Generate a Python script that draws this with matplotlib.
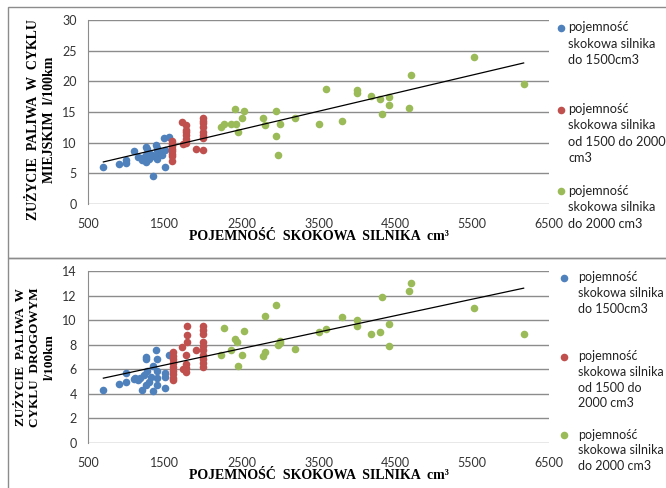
import numpy as np
import matplotlib
matplotlib.use('Agg')
from matplotlib import pyplot as plt
from matplotlib.patches import Rectangle
from matplotlib.lines import Line2D

# engine capacity [cm3] and fuel consumption [l/100km]
# city cycle (top chart)
city_small_x = [700, 900, 1000, 1000, 1100, 1150, 1200, 1200, 1250, 1250, 1250, 1270, 1280, 1300, 1300,
                1330, 1350, 1350, 1390, 1400, 1400, 1400, 1400, 1450, 1460, 1490, 1500, 1500, 1550]
city_small_y = [6.0, 6.5, 6.7, 7.2, 8.6, 7.7, 7.5, 7.2, 9.3, 6.9, 8.0, 9.0, 7.6, 8.3, 7.3,
                8.0, 4.5, 7.8, 9.6, 8.8, 8.0, 7.3, 9.2, 8.5, 8.0, 10.8, 6.0, 8.8, 11.0]
city_mid_x = [1590, 1590, 1590, 1590, 1590, 1590, 1590, 1590,
              1720, 1770, 1770, 1770, 1770, 1740, 1780, 1770, 1900,
              2000, 2000, 2000, 2000, 2000, 2000, 2000, 2000]
city_mid_y = [10.2, 9.8, 9.4, 9.0, 8.6, 8.2, 7.8, 7.0,
              13.4, 12.9, 12.1, 11.3, 10.6, 9.8, 10.0, 11.7, 9.0,
              8.8, 14.0, 13.6, 13.2, 12.5, 11.8, 11.3, 10.8]
city_big_x = [2230, 2270, 2360, 2410, 2430, 2450, 2500, 2530, 2780, 2800, 2950, 2950, 2970, 3000, 3190,
              3500, 3600, 3800, 4000, 4000, 4180, 4300, 4320, 4420, 4420, 4680, 4710, 5520, 6170]
city_big_y = [12.6, 13.0, 13.0, 15.5, 13.0, 11.8, 14.1, 15.2, 14.0, 12.8, 15.1, 11.1, 8.0, 13.0, 14.1,
              13.0, 18.8, 13.6, 18.6, 18.1, 17.6, 17.2, 14.6, 17.4, 16.2, 15.6, 21.0, 24.0, 19.5]

# road cycle (bottom chart)
road_small_x = [700, 900, 1000, 1000, 1100, 1110, 1150, 1180, 1200, 1230, 1250, 1260, 1260, 1270,
                1290, 1320, 1340, 1350, 1390, 1400, 1400, 1400, 1400, 1500, 1500, 1500, 1550]
road_small_y = [4.3, 4.8, 5.7, 5.0, 5.2, 5.3, 5.1, 5.3, 4.3, 5.5, 7.0, 6.8, 4.7, 5.9,
                5.0, 5.4, 4.2, 6.3, 7.6, 6.8, 5.9, 5.3, 4.7, 4.45, 5.4, 5.7, 7.2]
road_mid_x = [1600, 1600, 1600, 1600, 1600, 1600, 1600, 1600, 1600,
              1720, 1790, 1790, 1790, 1770, 1770, 1770, 1770, 1740, 1900,
              2000, 2000, 2000, 2000, 2000, 2000, 2000, 2000, 2000, 2000]
road_mid_y = [7.4, 7.1, 6.8, 6.5, 6.2, 5.9, 5.6, 5.3, 5.1,
              7.8, 9.5, 8.8, 8.2, 7.2, 6.4, 6.1, 5.8, 6.0, 7.6,
              9.5, 9.2, 8.9, 8.2, 7.9, 7.6, 7.2, 6.8, 6.5, 6.2]
road_big_x = [2230, 2270, 2360, 2410, 2440, 2450, 2500, 2530, 2780, 2800, 2800, 2950, 2970, 3000, 3000,
              3190, 3500, 3600, 3800, 4000, 4000, 4180, 4300, 4320, 4420, 4420, 4680, 4710, 5520, 6170]
road_big_y = [7.2, 9.4, 7.6, 8.5, 8.2, 6.3, 7.2, 9.1, 7.1, 7.4, 10.3, 11.25, 8.0, 8.3, 8.1,
              7.65, 9.0, 9.25, 10.25, 10.0, 9.5, 8.9, 9.0, 11.85, 9.65, 7.9, 12.4, 13.0, 11.0, 8.9]

# legend text, one list of lines per series
legend_top = [['pojemność', 'skokowa silnika', 'do 1500cm3'],
              ['pojemność', 'skokowa silnika', 'od 1500 do 2000', 'cm3'],
              ['pojemność', 'skokowa silnika', 'do 2000 cm3']]
legend_bottom = [['pojemność', 'skokowa silnika', 'do 1500cm3'],
                 ['pojemność', 'skokowa silnika', 'od 1500 do', '2000 cm3'],
                 ['pojemność', 'skokowa silnika', 'do 2000 cm3']]
x_ticks = [500, 1500, 2500, 3500, 4500, 5500, 6500]
xlabel = 'POJEMNOŚĆ  SKOKOWA  SILNIKA  cm³'
ylabel_top = 'ZUŻYCIE  PALIWA  W  CYKLU\nMIEJSKIM  l/100km'
ylabel_bottom = 'ZUŻYCIE  PALIWA  W\nCYKLU  DROGOWYM\nl/100km'

colors = ['#4F81BD', '#C0504D', '#9BBB59']
sans = 'Lato'
serif = 'Liberation Serif'

W, H = 666, 488
fig = plt.figure(figsize=(W / 100, H / 100), dpi=100)

# chart frames (two stacked excel charts)
fig.add_artist(Rectangle((8 / W, (H - 258) / H), 1.1, 251 / H, transform=fig.transFigure,
                         fill=False, ec='#8c8c8c', lw=1))
fig.add_artist(Rectangle((8 / W, -0.1), 1.1, (H - 258) / H + 0.1, transform=fig.transFigure,
                         fill=False, ec='#8c8c8c', lw=1))


def make_panel(rect, groups, ylim, ystep, ylab, ylab_size, ylab_y,
               legend_lines, leg_pos, gaps, textpad, leg_size, leg_spacing):
    ax = fig.add_axes(rect)
    allx, ally = [], []
    handles = []
    for (gx, gy), c in zip(groups, colors):
        handles.append(ax.scatter(gx, gy, s=30, color=c, zorder=3, linewidths=0))
        allx += gx
        ally += gy
    # linear trendline over all points
    k, b = np.polyfit(allx, ally, 1)
    xs = np.array([min(allx), max(allx)])
    ax.plot(xs, k * xs + b, color='black', lw=0.9, zorder=4)

    ax.set_xlim(500, 6500)
    ax.set_ylim(ylim)
    ax.set_xticks(x_ticks)
    ax.set_yticks(np.arange(ylim[0], ylim[1] + 0.1, ystep))
    ax.grid(axis='y', color='#8c8c8c', lw=1)
    ax.set_axisbelow(True)
    for s in ['top', 'right', 'bottom']:
        ax.spines[s].set_visible(False)
    ax.spines['left'].set_color('#8c8c8c')
    ax.tick_params(length=0, labelsize=9, colors='#333333')
    ax.tick_params(axis='x', pad=10)
    ax.tick_params(axis='y', pad=8)
    for t in ax.get_xticklabels() + ax.get_yticklabels():
        t.set_family(sans)
    ax.set_xlabel(xlabel, family=serif, fontweight='bold', fontsize=10, labelpad=0)
    ax.set_ylabel(ylab, family=serif, fontweight='bold', fontsize=ylab_size, linespacing=1.25)
    ax.yaxis.set_label_coords(-0.07, ylab_y)

    # legend: marker on the first line of each entry, one row per text line
    blank = Line2D([], [], ls='none')
    h_rows, l_rows = [], []
    for h, lines, gap in zip(handles, legend_lines, gaps):
        h_rows += [h] + [blank] * (len(lines) - 1 + gap)
        l_rows += lines + [' '] * gap
    ax.legend(h_rows, l_rows, loc='upper left', bbox_to_anchor=leg_pos, bbox_transform=fig.transFigure,
              frameon=False, handlelength=0.5, handletextpad=textpad, labelspacing=leg_spacing,
              prop={'family': sans, 'size': leg_size}, scatterpoints=1, borderpad=0,
              labelcolor='#222222')
    return ax


make_panel([88 / W, (H - 204) / H, 461 / W, 184 / H],
           [(city_small_x, city_small_y), (city_mid_x, city_mid_y), (city_big_x, city_big_y)],
           (0, 30), 5, ylabel_top, 10, 0.46,
           legend_top, (551 / W, (H - 15) / H), [2, 1, 0], 0.35, 9.2, 0.34)
make_panel([88 / W, (H - 443) / H, 461 / W, 172 / H],
           [(road_small_x, road_small_y), (road_mid_x, road_mid_y), (road_big_x, road_big_y)],
           (0, 14), 2, ylabel_bottom, 9.5, 0.5,
           legend_bottom, (555 / W, (H - 265) / H), [2, 1, 0], 0.85, 9.0, 0.3)

plt.savefig('out.png', dpi=100)
